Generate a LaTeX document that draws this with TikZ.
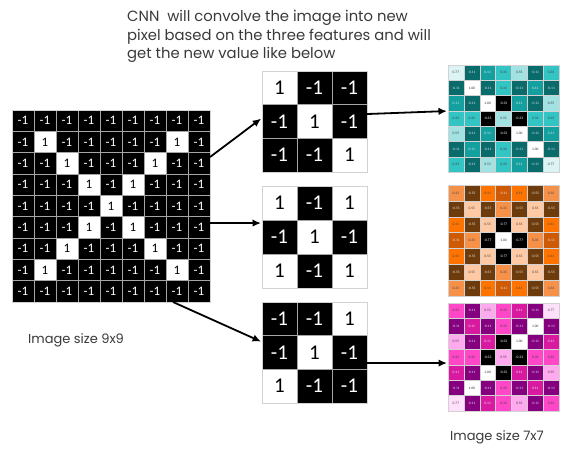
\documentclass[tikz,border=0pt]{standalone}
\usepackage{fontspec}
\setmainfont{Poppins}
\newfontfamily\numfont{Carlito}
\usetikzlibrary{arrows.meta,calc}

% teal map
\definecolor{T6}{HTML}{000000}\definecolor{T8}{HTML}{0A6B6B}\definecolor{T10}{HTML}{15A0A0}
\definecolor{T12}{HTML}{33C4C4}\definecolor{T14}{HTML}{A3E2E2}\definecolor{T16}{HTML}{DDF4F4}\definecolor{T18}{HTML}{FFFFFF}
\definecolor{Tt6}{HTML}{FFFFFF}\definecolor{Tt8}{HTML}{E8E8E8}\definecolor{Tt10}{HTML}{E8E8E8}
\definecolor{Tt12}{HTML}{404040}\definecolor{Tt14}{HTML}{404040}\definecolor{Tt16}{HTML}{404040}\definecolor{Tt18}{HTML}{303030}
% orange map
\definecolor{O2}{HTML}{000000}\definecolor{O4}{HTML}{6E3C0C}\definecolor{O8}{HTML}{CF5A06}
\definecolor{O10}{HTML}{FF7400}\definecolor{O12}{HTML}{F6914A}\definecolor{O14}{HTML}{FFC9A3}\definecolor{O18}{HTML}{FFFFFF}
\definecolor{Ot2}{HTML}{FFFFFF}\definecolor{Ot4}{HTML}{E8E8E8}\definecolor{Ot8}{HTML}{E8E8E8}
\definecolor{Ot10}{HTML}{404040}\definecolor{Ot12}{HTML}{404040}\definecolor{Ot14}{HTML}{404040}\definecolor{Ot18}{HTML}{303030}
% magenta map
\definecolor{M6}{HTML}{000000}\definecolor{M8}{HTML}{85007F}\definecolor{M10}{HTML}{D91AA1}
\definecolor{M12}{HTML}{FF47C7}\definecolor{M14}{HTML}{FFAAEF}\definecolor{M16}{HTML}{FFE0FC}\definecolor{M18}{HTML}{FFFFFF}
\definecolor{Mt6}{HTML}{FFFFFF}\definecolor{Mt8}{HTML}{E8E8E8}\definecolor{Mt10}{HTML}{E8E8E8}
\definecolor{Mt12}{HTML}{404040}\definecolor{Mt14}{HTML}{404040}\definecolor{Mt16}{HTML}{404040}\definecolor{Mt18}{HTML}{303030}
\definecolor{txt}{HTML}{3A3A3A}

\tikzset{
  bwcell/.style={draw=gray!70, line width=0.6pt, inner sep=0pt, outer sep=0pt},
  valcell/.style={draw=gray!35, line width=0.4pt, inner sep=0pt, outer sep=0pt,
    font=\numfont\fontsize{3.6}{3.8}\selectfont},
  frame/.style={draw=gray!35, line width=0.8pt, inner sep=0pt, outer sep=0pt},
  arr/.style={draw=black, line width=1.8pt, -{Latex[length=8.5pt,width=7.5pt]}, shorten >=1pt},
  label/.style={text=txt, inner sep=0pt, font=\fontsize{13}{15}\selectfont}
}

% #1 name, #2 x0, #3 y0, #4 cell w, #5 cell h, #6 font, #7 rows
\newcommand\BWgrid[7]{%
  \foreach \row [count=\r] in {#7} {
    \foreach \v [count=\c] in \row {
      \ifnum\v=1 \def\bg{white}\def\fg{black}\else\def\bg{black}\def\fg{white}\fi
      \node[bwcell, fill=\bg, text=\fg, minimum width=#4, minimum height=#5, font=#6]
        (#1-\r-\c) at ({#2+(\c-0.5)*#4},{#3+(\r-0.5)*#5}) {\v};
    }
  }
}
% #1 name, #2 x0, #3 y0, #4 cell w, #5 cell h, #6 colour prefix, #7 rows
\newcommand\ValGrid[7]{%
  \foreach \row [count=\r] in {#7} {
    \foreach \v [count=\c] in \row {
      \pgfmathtruncatemacro\k{round((\v+1)*9)}
      \node[valcell, fill=#6\k, text=#6t\k, minimum width=#4, minimum height=#5]
        (#1-\r-\c) at ({#2+(\c-0.5)*#4},{#3+(\r-0.5)*#5}) {\v};
    }
  }
}

\begin{document}
\begin{tikzpicture}[x=1pt,y=-1pt]
\useasboundingbox (0,0) rectangle (565,448);
\fill[white] (0,0) rectangle (565,448);

% title
\node[anchor=north west, align=left, text=txt, inner sep=0pt,
      font=\fontsize{14.8}{18.6}\selectfont] (title) at (127,10)
  {CNN\ \ will convolve the image into new\\pixel based on the three features and will\\get the new value like below};

% 9x9 image
\BWgrid{im}{12}{110}{22}{21.333}{\numfont\fontsize{13}{13}\selectfont}{
 {-1,-1,-1,-1,-1,-1,-1,-1,-1},
 {-1,1,-1,-1,-1,-1,-1,1,-1},
 {-1,-1,1,-1,-1,-1,1,-1,-1},
 {-1,-1,-1,1,-1,1,-1,-1,-1},
 {-1,-1,-1,-1,1,-1,-1,-1,-1},
 {-1,-1,-1,1,-1,1,-1,-1,-1},
 {-1,-1,1,-1,-1,-1,1,-1,-1},
 {-1,1,-1,-1,-1,-1,-1,1,-1},
 {-1,-1,-1,-1,-1,-1,-1,-1,-1}}
\node[frame, minimum width=198pt, minimum height=192pt] (img) at (111,206) {};

% features
\BWgrid{fa}{262}{71}{35}{33.67}{\numfont\fontsize{21}{21}\selectfont}{
 {1,-1,-1},{-1,1,-1},{-1,-1,1}}
\node[frame, minimum width=105pt, minimum height=101pt] (f1) at (314.5,121.5) {};
\BWgrid{fb}{262}{186}{35}{34}{\numfont\fontsize{21}{21}\selectfont}{
 {1,-1,1},{-1,1,-1},{1,-1,1}}
\node[frame, minimum width=105pt, minimum height=102pt] (f2) at (314.5,237) {};
\BWgrid{fc}{262}{302}{35}{33.67}{\numfont\fontsize{21}{21}\selectfont}{
 {-1,-1,1},{-1,1,-1},{1,-1,-1}}
\node[frame, minimum width=105pt, minimum height=101pt] (f3) at (314.5,352.5) {};

% outputs
\ValGrid{oa}{448}{65}{15.86}{15.29}{T}{
 {0.77,-0.11,0.11,0.33,0.55,-0.11,0.33},
 {-0.11,1.00,-0.11,0.33,-0.11,0.11,-0.11},
 {0.11,-0.11,1.00,-0.33,0.11,-0.11,0.55},
 {0.33,0.33,-0.33,0.55,-0.33,0.33,0.33},
 {0.55,-0.11,0.11,-0.33,1.00,-0.11,0.11},
 {-0.11,0.11,-0.11,0.33,-0.11,1.00,-0.11},
 {0.33,-0.11,0.55,0.33,0.11,-0.11,0.77}}
\node[frame, minimum width=111pt, minimum height=107pt] (o1) at (503.5,118.5) {};
\ValGrid{ob}{448}{185}{15.86}{15.86}{O}{
 {0.33,-0.55,0.11,-0.11,0.11,-0.55,0.33},
 {-0.55,0.55,-0.55,0.33,-0.55,0.55,-0.55},
 {0.11,-0.55,0.55,-0.77,0.55,-0.55,0.11},
 {-0.11,0.33,-0.77,1.00,-0.77,0.33,-0.11},
 {0.11,-0.55,0.55,-0.77,0.55,-0.55,0.11},
 {-0.55,0.55,-0.55,0.33,-0.55,0.55,-0.55},
 {0.33,-0.55,0.11,-0.11,0.11,-0.55,0.33}}
\node[frame, minimum width=111pt, minimum height=111pt] (o2) at (503.5,240.5) {};
\ValGrid{oc}{448}{303}{15.86}{15.43}{M}{
 {0.33,-0.11,0.55,0.33,0.11,-0.11,0.77},
 {-0.11,0.11,-0.11,0.33,-0.11,1.00,-0.11},
 {0.55,-0.11,0.11,-0.33,1.00,-0.11,0.11},
 {0.33,0.33,-0.33,0.55,-0.33,0.33,0.33},
 {0.11,-0.11,1.00,-0.33,0.11,-0.11,0.55},
 {-0.11,1.00,-0.11,0.33,-0.11,0.11,-0.11},
 {0.77,-0.11,0.11,0.33,0.55,-0.11,0.33}}
\node[frame, minimum width=111pt, minimum height=108pt] (o3) at (503.5,357) {};

% labels
\node[label, anchor=west] (lab9) at (28,340) {Image size 9x9};
\node[label, anchor=west] (lab7) at (450,437) {Image size 7x7};

% arrows
\draw[arr] ($(img.north east)!0.245!(img.south east)$) -- ($(f1.north west)!0.465!(f1.south west)$);
\draw[arr] ($(img.north east)!0.589!(img.south east)$) -- ($(f2.north west)!0.363!(f2.south west)$);
\draw[arr] ($(img.south west)!0.813!(img.south east)$) -- ($(f3.north west)!0.396!(f3.south west)$);
\draw[arr] ($(f1.north east)!0.426!(f1.south east)$) -- ($(o1.north west)!0.43!(o1.south west)$);
\draw[arr] ($(f3.north east)!0.604!(f3.south east)$) -- ($(o3.north west)!0.556!(o3.south west)$);
\end{tikzpicture}
\end{document}
